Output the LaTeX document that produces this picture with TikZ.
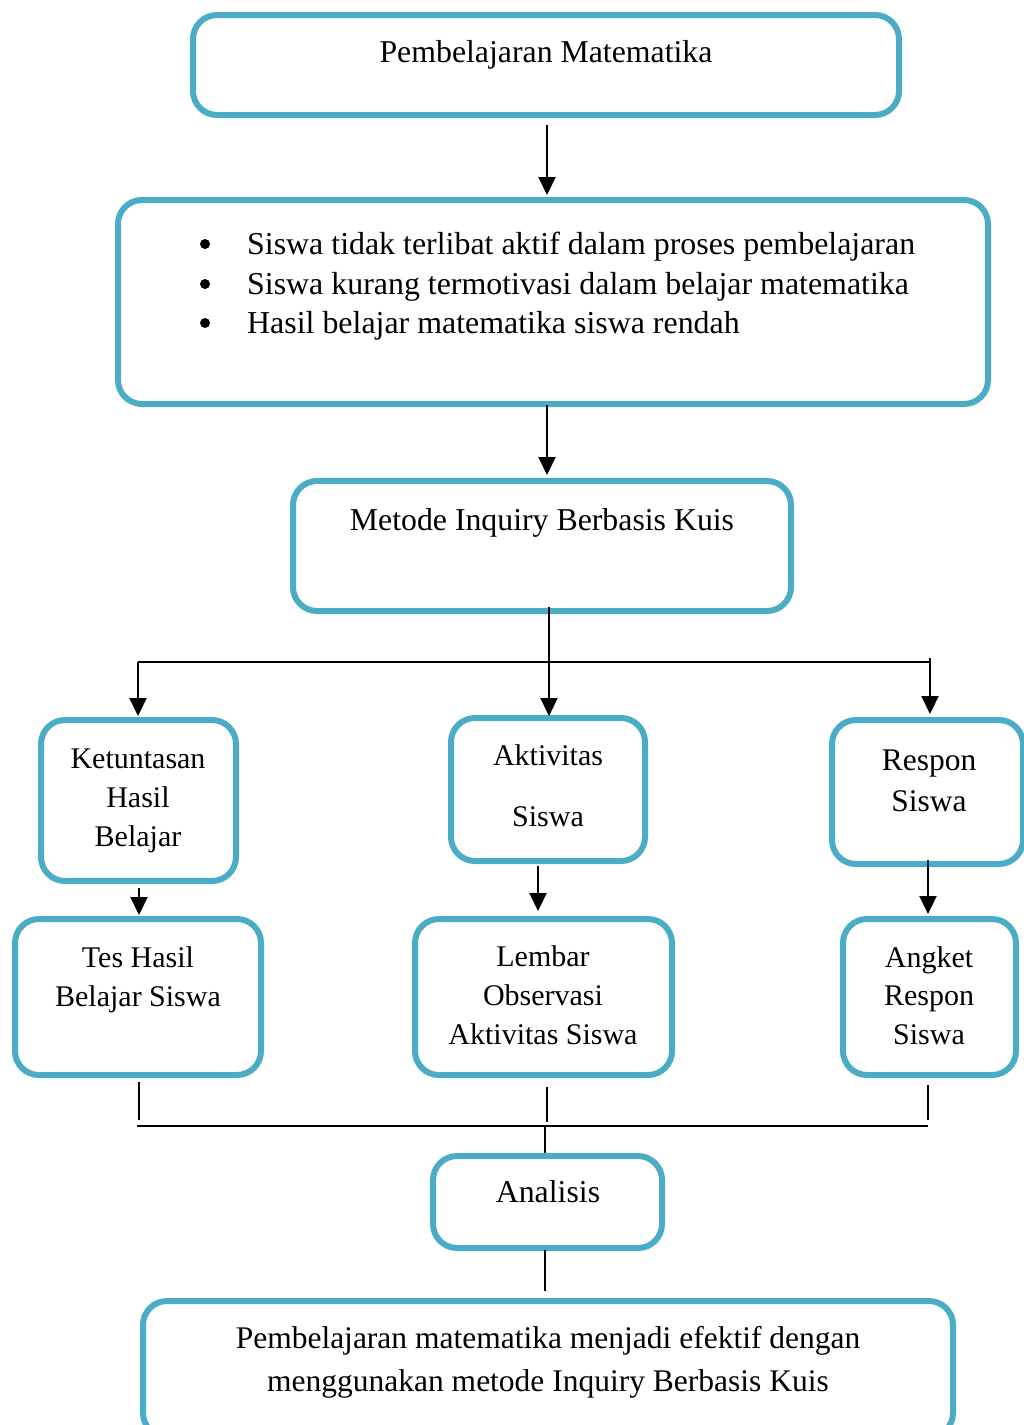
\documentclass[tikz,border=0pt]{standalone}
\usepackage{fontspec}
\setmainfont{Liberation Serif}
\usetikzlibrary{arrows.meta,calc}
\definecolor{boxteal}{HTML}{4BACC6}
\tikzset{
  box/.style={draw=boxteal, line width=6pt, rounded corners=24pt, rectangle, inner sep=0pt, fill=white},
  txt/.style={font=\fontsize{31.8}{39.5}\selectfont, align=center, inner sep=0pt, anchor=base},
  dot/.style={circle, fill=black, inner sep=0pt, minimum size=10pt},
  ln/.style={draw=black, line width=2.2pt},
  arr/.style={ln, -{Triangle[width=17pt,length=18pt]}}
}
\begin{document}
\begin{tikzpicture}[x=1pt,y=-1pt]
\useasboundingbox (0,0) rectangle (1024,1425);
% boxes
\node[box, minimum width=706pt, minimum height=100pt] (b1) at (546,65) {};
\node[box, minimum width=870pt, minimum height=204pt] (b2) at (553,302) {};
\node[box, minimum width=498pt, minimum height=130pt] (b3) at (542,546) {};
\node[box, minimum width=195pt, minimum height=161pt] (b4) at (138.5,800.5) {};
\node[box, minimum width=194pt, minimum height=143pt] (b5) at (548,789.5) {};
\node[box, minimum width=191pt, minimum height=144pt] (b6) at (927.5,792) {};
\node[box, minimum width=246pt, minimum height=156pt] (b7) at (138,997) {};
\node[box, minimum width=257pt, minimum height=156pt] (b8) at (543.5,997) {};
\node[box, minimum width=173pt, minimum height=156pt] (b9) at (929.5,997) {};
\node[box, minimum width=229pt, minimum height=92pt] (b10) at (547.5,1202) {};
\node[box, minimum width=810pt, minimum height=136pt] (b11) at (548,1369) {};
% texts
\node[txt] (t1) at (546,62) {Pembelajaran Matematika};
\node[txt, anchor=base west, font=\fontsize{31.9}{39.5}\selectfont] (t2a) at (247,254) {Siswa tidak terlibat aktif dalam proses pembelajaran};
\node[txt, anchor=base west, font=\fontsize{31.9}{39.5}\selectfont] (t2b) at (247,294) {Siswa kurang termotivasi dalam belajar matematika};
\node[txt, anchor=base west, font=\fontsize{31.9}{39.5}\selectfont] (t2c) at (247,333) {Hasil belajar matematika siswa rendah};
\node[dot] (u2a) at (205,244) {};
\node[dot] (u2b) at (205,284) {};
\node[dot] (u2c) at (205,323) {};
\node[txt] (t3) at (542,530) {Metode Inquiry Berbasis Kuis};
\node[txt, font=\fontsize{30}{39}\selectfont] (t4) at (138,846) {Ketuntasan\\Hasil\\Belajar};
\node[txt, font=\fontsize{30}{61}\selectfont] (t5) at (548,826) {Aktivitas\\Siswa};
\node[txt, font=\fontsize{31.5}{41}\selectfont] (t6) at (929,811) {Respon\\Siswa};
\node[txt, font=\fontsize{30}{39}\selectfont] (t7) at (138,1006) {Tes Hasil\\Belajar Siswa};
\node[txt, font=\fontsize{30}{39}\selectfont] (t8) at (543,1044) {Lembar\\Observasi\\Aktivitas Siswa};
\node[txt, font=\fontsize{30}{38.5}\selectfont] (t9) at (929,1044) {Angket\\Respon\\Siswa};
\node[txt] (t10) at (548,1202) {Analisis};
\node[txt, font=\fontsize{31.5}{43}\selectfont] (t11) at (548,1391) {Pembelajaran matematika menjadi efektif dengan\\menggunakan metode Inquiry Berbasis Kuis};
% junction coordinates
\coordinate (a1) at (547,125);
\coordinate (a2) at (547,405);
\coordinate (j) at (549,662);
\coordinate (jl) at (138,662);
\coordinate (jr) at (930,662);
\coordinate (m1) at (139,888);
\coordinate (m2) at (538,866);
\coordinate (m3) at (928,860);
\coordinate (k) at (545,1126);
\coordinate (kl) at (137,1126);
\coordinate (kr) at (928,1126);
\coordinate (p1) at (139,1082);
\coordinate (p2) at (547,1087);
\coordinate (p3) at (928,1085);
\coordinate (q) at (545,1250);
% connectors
\draw[arr] (a1) -- ($(b2.north -| a1)+(0,-2)$);
\draw[arr] (a2) -- ($(b3.north -| a2)+(0,-3)$);
\draw[ln] ($(b3.south -| j)+(0,-7)$) -- (j);
\draw[ln] (jl) -- (jr);
\draw[arr] (jl) -- ($(b4.north -| jl)+(0,-1)$);
\draw[arr] (j) -- ($(b5.north -| j)+(0,1)$);
\draw[arr] ($(jr)+(0,-4)$) -- ($(b6.north -| jr)+(0,-3)$);
\draw[arr] (m1) -- ($(b7.north -| m1)+(0,-1)$);
\draw[arr] (m2) -- ($(b8.north -| m2)+(0,-5)$);
\draw[arr] (m3) -- ($(b9.north -| m3)+(0,-2)$);
\draw[ln] (p1) -- ($(kl -| p1)+(0,-6)$);
\draw[ln] (p2) -- ($(k -| p2)+(0,-4)$);
\draw[ln] (p3) -- ($(kr)+(0,-6)$);
\draw[ln] (kl) -- (kr);
\draw[ln] (k) -- (b10.north -| k);
\draw[ln] (q) -- ($(b11.north -| q)+(0,-7)$);
\end{tikzpicture}
\end{document}
